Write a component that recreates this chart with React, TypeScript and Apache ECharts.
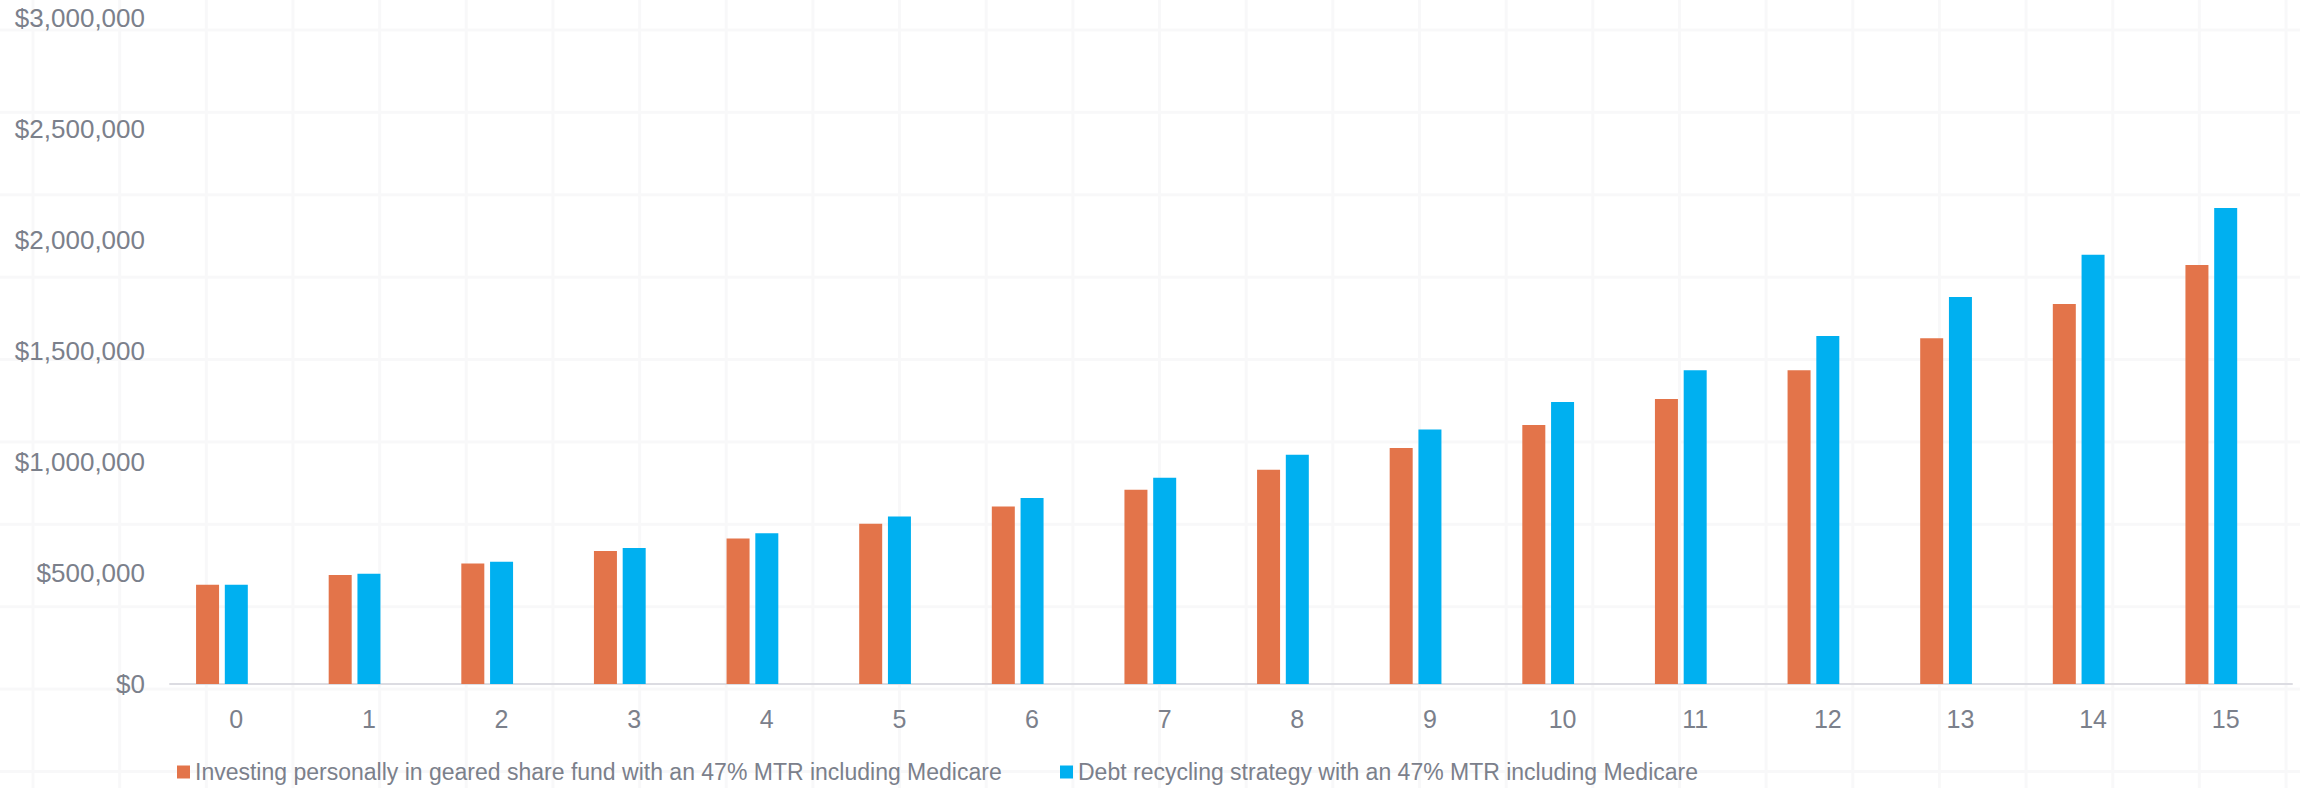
import React, { useEffect, useRef } from "react";
import * as echarts from "echarts";

const years = ["0", "1", "2", "3", "4", "5", "6", "7", "8", "9", "10", "11", "12", "13", "14", "15"];
const geared = [447000, 491000, 543000, 599000, 655000, 722000, 799000, 875000, 965000, 1063000, 1167000, 1284000, 1413000, 1557000, 1712000, 1887000];
const recycling = [447000, 497000, 551000, 613000, 679000, 754000, 838000, 929000, 1033000, 1146000, 1270000, 1413000, 1568000, 1743000, 1934000, 2144000];
const seriesNames = [
  "Investing personally in geared share fund with an 47% MTR including Medicare",
  "Debt recycling strategy with an 47% MTR including Medicare",
];
const yMax = 3000000;
const yStep = 500000;

const FONT = "'Liberation Sans', Arial, Helvetica, sans-serif";
const TEXT = "#7b808b";

export default function App() {
  const ref = useRef<HTMLDivElement>(null);
  useEffect(() => {
    if (!ref.current) return;
    const chart = echarts.init(ref.current, null, { renderer: "svg" });
    chart.setOption({
      animation: false,
      backgroundColor: "transparent",
      textStyle: { fontFamily: FONT },
      grid: { left: 170, right: 8, top: 18, bottom: 104, containLabel: false },
      legend: [
        {
          data: [seriesNames[0]],
          left: 177,
          top: 758,
          padding: 0,
          icon: "rect",
          itemWidth: 13,
          itemHeight: 13,
          textStyle: { fontFamily: FONT, fontSize: 23, color: TEXT, lineHeight: 28 },
        },
        {
          data: [seriesNames[1]],
          left: 1060,
          top: 758,
          padding: 0,
          icon: "rect",
          itemWidth: 13,
          itemHeight: 13,
          textStyle: { fontFamily: FONT, fontSize: 23, color: TEXT, lineHeight: 28 },
        },
      ],
      xAxis: {
        type: "category",
        data: years,
        axisLine: { show: true, lineStyle: { color: "#dcdce2", width: 2 } },
        axisTick: { show: false },
        axisLabel: { fontFamily: FONT, fontSize: 25, color: TEXT, margin: 22 },
        splitLine: { show: false },
      },
      yAxis: {
        type: "value",
        min: 0,
        max: yMax,
        interval: yStep,
        axisLine: { show: false },
        axisTick: { show: false },
        splitLine: { show: false },
        axisLabel: {
          fontFamily: FONT,
          fontSize: 26,
          color: TEXT,
          margin: 25,
          formatter: (v: number) => "$" + Math.round(v).toLocaleString("en-US"),
        },
      },
      series: [
        {
          name: seriesNames[0],
          type: "bar",
          data: geared,
          barWidth: 23,
          barGap: "25%",
          itemStyle: { color: "#e3744a" },
        },
        {
          name: seriesNames[1],
          type: "bar",
          data: recycling,
          barWidth: 23,
          barGap: "25%",
          itemStyle: { color: "#00b0f0" },
        },
        {
          name: "spacer",
          type: "bar",
          data: [],
          barWidth: 23,
          barGap: "25%",
        },
      ],
    });
    return () => chart.dispose();
  }, []);

  return (
    <div
      ref={ref}
      style={{
        position: "absolute",
        left: 0,
        top: 0,
        width: 2300,
        height: 788,
        backgroundColor: "#ffffff",
        backgroundImage:
          "linear-gradient(to right, #f8f8f9 3px, transparent 3px), linear-gradient(to bottom, #f8f8f9 3px, transparent 3px)",
        backgroundSize: "86.67px 82.4px",
        backgroundPosition: "31.5px 28.5px",
      }}
    />
  );
}
